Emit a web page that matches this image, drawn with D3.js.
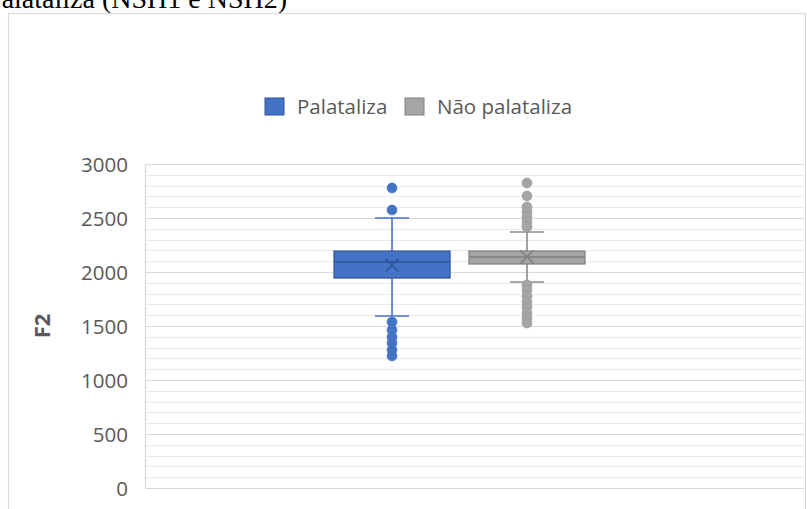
<!DOCTYPE html>
<html>
<head>
<meta charset="utf-8">
<script src="https://cdn.jsdelivr.net/npm/d3@7"></script>
<style>
  html, body { margin: 0; padding: 0; background: #fff; }
  svg { display: block; }
</style>
</head>
<body>
<svg id="chart" width="807" height="509"></svg>
<script>
// F2 box plots by group
const series = ["Palataliza", "Não palataliza"];
const colors = ["#4472C4", "#A5A5A5"];
const strokeColors = ["#2F5597", "#7F7F7F"];
const whiskerLow = [1593, 1907];
const q1 = [1944, 2074];
const median = [2093, 2139];
const q3 = [2194, 2194];
const whiskerHigh = [2500, 2370];
const mean = [2065, 2140];
const outliersPal = [2778, 2574, 1537, 1463, 1398, 1343, 1278, 1222];
const outliersNao = [2824, 2704, 2602, 2556, 2509, 2463, 2417, 1880, 1833, 1778, 1722, 1676, 1620, 1574, 1528];
const outliers = [outliersPal, outliersNao];
const yTicks = [0, 500, 1000, 1500, 2000, 2500, 3000];
const yMinorTicks = d3.range(0, 3001, 100);
const yTitle = "F2";
const heading = "Palataliza (NSH1 e NSH2)";

const svg = d3.select("#chart");
const labelColor = "#595959";

// heading text running off the top edge of the page
svg.append("text")
  .attr("x", 287).attr("y", 8)
  .attr("text-anchor", "end")
  .attr("font-family", "'Liberation Serif', 'Times New Roman', serif")
  .attr("font-size", 28)
  .attr("fill", "#000")
  .text(heading);

// chart frame
svg.append("rect")
  .attr("x", 8.5).attr("y", 13.5)
  .attr("width", 797).attr("height", 520)
  .attr("fill", "#fff")
  .attr("stroke", "#D9D9D9").attr("stroke-width", 1.2);

const plot = { left: 145, right: 804, top: 164, bottom: 488 };

const y = d3.scaleLinear().domain([0, 3000]).range([plot.bottom, plot.top]);
const x = d3.scaleBand().domain(series).range([334, 585]).paddingInner(0.14);

// minor gridlines
svg.append("g").selectAll("line")
  .data(yMinorTicks.filter(v => v % 500 !== 0))
  .join("line")
  .attr("x1", plot.left).attr("x2", plot.right)
  .attr("y1", d => Math.round(y(d)) + 0.5).attr("y2", d => Math.round(y(d)) + 0.5)
  .attr("stroke", "#EAEAEA").attr("stroke-width", 1);

// major gridlines
svg.append("g").selectAll("line")
  .data(yTicks)
  .join("line")
  .attr("x1", plot.left).attr("x2", plot.right)
  .attr("y1", d => Math.round(y(d)) + 0.5).attr("y2", d => Math.round(y(d)) + 0.5)
  .attr("stroke", "#D9D9D9").attr("stroke-width", 1.2);

// vertical axis line
svg.append("line")
  .attr("x1", plot.left + 0.5).attr("x2", plot.left + 0.5)
  .attr("y1", plot.top).attr("y2", plot.bottom)
  .attr("stroke", "#D9D9D9").attr("stroke-width", 1.2);

// y axis labels
const yAxis = d3.axisLeft(y).tickValues(yTicks).tickSize(0).tickPadding(0).tickFormat(d3.format("d"));
const yg = svg.append("g").attr("transform", `translate(128,0)`).call(yAxis);
yg.select(".domain").remove();
yg.selectAll("text")
  .attr("font-family", "'Open Sans', sans-serif")
  .attr("font-size", 20.5)
  .attr("fill", labelColor)
  .attr("dy", "0.36em");

// y axis title
svg.append("text")
  .attr("transform", "translate(42,326) rotate(-90)")
  .attr("text-anchor", "middle")
  .attr("dy", "0.36em")
  .attr("font-family", "'Open Sans', sans-serif")
  .attr("font-weight", "bold")
  .attr("font-size", 22)
  .attr("fill", labelColor)
  .text(yTitle);

// legend
const legend = svg.append("g");
const legendX = [265, 405];
series.forEach((s, i) => {
  const g = legend.append("g").attr("transform", `translate(${legendX[i]},98)`);
  g.append("rect").attr("width", 19).attr("height", 17)
    .attr("fill", colors[i]).attr("stroke", strokeColors[i]).attr("stroke-width", 1);
  g.append("text").attr("x", 32).attr("y", 8.5).attr("dy", "0.36em")
    .attr("font-family", "'Open Sans', sans-serif")
    .attr("font-size", 20.5)
    .attr("fill", labelColor)
    .text(s);
});

// boxes
series.forEach((s, i) => {
  const g = svg.append("g");
  const bx = x(s), bw = x.bandwidth(), cx = bx + bw / 2;
  const cap = 34;
  const wColor = i === 0 ? colors[i] : "#8C8C8C";

  // whiskers
  g.append("line").attr("x1", cx).attr("x2", cx)
    .attr("y1", y(whiskerHigh[i])).attr("y2", y(q3[i]))
    .attr("stroke", wColor).attr("stroke-width", 1.6);
  g.append("line").attr("x1", cx).attr("x2", cx)
    .attr("y1", y(q1[i])).attr("y2", y(whiskerLow[i]))
    .attr("stroke", wColor).attr("stroke-width", 1.6);
  [whiskerHigh[i], whiskerLow[i]].forEach(v => {
    g.append("line").attr("x1", cx - cap / 2).attr("x2", cx + cap / 2)
      .attr("y1", y(v)).attr("y2", y(v))
      .attr("stroke", wColor).attr("stroke-width", 1.6);
  });

  // outliers
  g.selectAll("circle").data(outliers[i]).join("circle")
    .attr("cx", cx).attr("cy", d => y(d)).attr("r", 5)
    .attr("fill", colors[i]).attr("stroke", i === 0 ? colors[i] : "#999").attr("stroke-width", 0.6);

  // box
  g.append("rect")
    .attr("x", bx).attr("y", y(q3[i]))
    .attr("width", bw).attr("height", y(q1[i]) - y(q3[i]))
    .attr("fill", colors[i]).attr("stroke", strokeColors[i]).attr("stroke-width", 1.2);

  // median
  g.append("line").attr("x1", bx).attr("x2", bx + bw)
    .attr("y1", y(median[i])).attr("y2", y(median[i]))
    .attr("stroke", strokeColors[i]).attr("stroke-width", 1.6);

  // mean marker
  const my = y(mean[i]), m = 6.5;
  g.append("path")
    .attr("d", `M${cx - m},${my - m}L${cx + m},${my + m}M${cx - m},${my + m}L${cx + m},${my - m}`)
    .attr("stroke", strokeColors[i]).attr("stroke-width", 1.5).attr("fill", "none");
});
</script>
</body>
</html>
